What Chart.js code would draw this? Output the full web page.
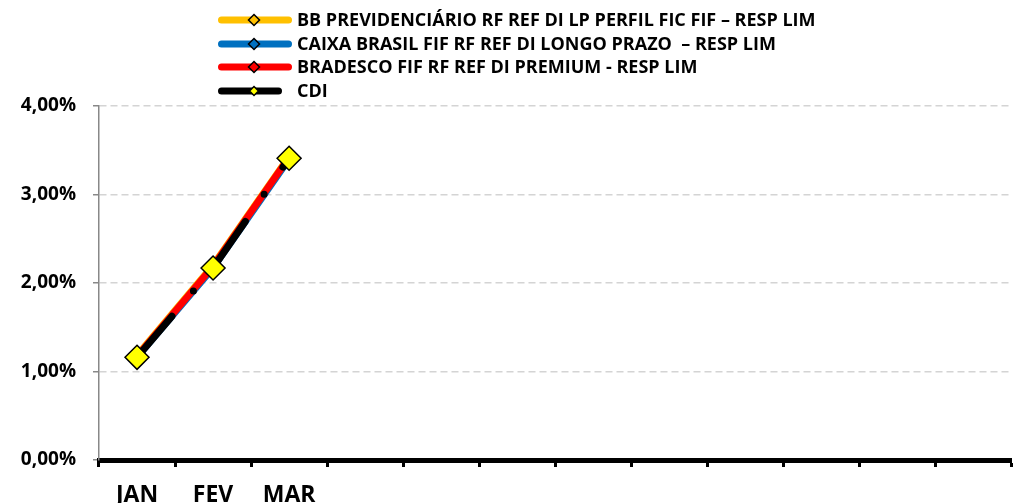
<!DOCTYPE html>
<html>
<head>
<meta charset="utf-8">
<script src="https://cdn.jsdelivr.net/npm/chart.js@4.4.1/dist/chart.umd.min.js"></script>
<style>
  html, body { margin: 0; padding: 0; background: #fff; overflow: hidden; }
  #wrap { width: 1025px; height: 503px; position: relative; }
</style>
</head>
<body>
<div id="wrap"><canvas id="chart"></canvas></div>
<script>
// meses (so os 3 primeiros tem rotulo)
const months = ['JAN', 'FEV', 'MAR', '', '', '', '', '', '', '', '', ''];

const bbName = 'BB PREVIDENCIÁRIO RF REF DI LP PERFIL FIC FIF – RESP LIM';
const caixaName = 'CAIXA BRASIL FIF RF REF DI LONGO PRAZO  – RESP LIM';
const bradescoName = 'BRADESCO FIF RF REF DI PREMIUM - RESP LIM';
const cdiName = 'CDI';

// rentabilidade acumulada (%)
const bbValues = [1.18, 2.20, 3.43];
const caixaValues = [1.16, 2.17, 3.40];
const bradescoValues = [1.17, 2.19, 3.42];
const cdiValues = [1.16, 2.17, 3.41];

const yMin = 0;
const yMax = 4;
const yStep = 1;

const fontFamily = '"Open Sans", Lato, sans-serif';
const fmtPct = v => v.toFixed(2).replace('.', ',') + '%';

const fundSet = (label, data, color, order) => ({
    label,
    data,
    borderColor: color,
    backgroundColor: color,
    borderWidth: 7,
    borderDash: [],
    pointStyle: 'rectRot',
    pointRadius: 5,
    pointBackgroundColor: color,
    pointBorderColor: '#000',
    pointBorderWidth: 1.5,
    tension: 0,
    order
});

// legenda em coluna, desenhada a mao
const legendRows = {
    id: 'legendRows',
    afterDraw(chart) {
        const ctx = chart.ctx;
        ctx.save();
        chart.data.datasets.forEach((ds, i) => {
            const y = Math.round(20 + i * 23.7);
            const isCdi = ds.borderDash.length > 0;

            ctx.lineWidth = 7;
            ctx.lineCap = 'round';
            ctx.strokeStyle = ds.borderColor;
            ctx.beginPath();
            ctx.moveTo(221.5, y);
            ctx.lineTo(isCdi ? 278.5 : 288.5, y);
            ctx.stroke();

            const r = isCdi ? 4.5 : 5.5;
            ctx.beginPath();
            ctx.moveTo(254, y - r);
            ctx.lineTo(254 + r, y);
            ctx.lineTo(254, y + r);
            ctx.lineTo(254 - r, y);
            ctx.closePath();
            ctx.fillStyle = ds.pointBackgroundColor;
            ctx.fill();
            ctx.lineWidth = 1.5;
            ctx.strokeStyle = '#000';
            ctx.stroke();

            ctx.fillStyle = '#000';
            ctx.font = 'bold 18px ' + fontFamily;
            ctx.textBaseline = 'middle';
            ctx.textAlign = 'left';
            ctx.fillText(ds.label, 297, y + 1);
        });
        ctx.restore();
    }
};

new Chart(document.getElementById('chart'), {
    type: 'line',
    data: {
        labels: months,
        datasets: [
            fundSet(bbName, bbValues, '#FFC000', 3),
            fundSet(caixaName, caixaValues, '#0070C0', 2),
            fundSet(bradescoName, bradescoValues, '#FF0000', 1),
            {
                label: cdiName,
                data: cdiValues,
                borderColor: '#000',
                backgroundColor: '#000',
                borderWidth: 7,
                borderDash: [54, 33, 0, 33],
                borderCapStyle: 'round',
                pointStyle: 'rectRot',
                pointRadius: 12,
                pointHoverRadius: 12,
                pointBackgroundColor: '#FFFF00',
                pointBorderColor: '#000',
                pointBorderWidth: 1.5,
                tension: 0,
                order: 0
            }
        ]
    },
    options: {
        responsive: true,
        maintainAspectRatio: false,
        animation: false,
        layout: {
            padding: { top: 106, right: 0, left: 0, bottom: 0 }
        },
        plugins: {
            legend: { display: false },
            tooltip: { enabled: false }
        },
        scales: {
            x: {
                offset: true,
                grid: {
                    offset: true,
                    drawOnChartArea: false,
                    drawTicks: true,
                    tickLength: 7,
                    tickWidth: 3,
                    tickColor: '#000'
                },
                border: { color: '#000', width: 5 },
                ticks: {
                    color: '#000',
                    font: { family: fontFamily, size: 23, weight: 'bold' },
                    padding: 15,
                    maxRotation: 0,
                    autoSkip: false
                },
                afterFit: axis => { axis.height = 43; }
            },
            y: {
                min: yMin,
                max: yMax,
                grid: {
                    color: '#D4D4D4',
                    lineWidth: 1.5,
                    tickBorderDash: [],
                    tickColor: '#888',
                    tickLength: 6
                },
                border: { color: '#888', width: 1.5, dash: [7, 4] },
                ticks: {
                    stepSize: yStep,
                    color: '#000',
                    font: { family: fontFamily, size: 19, weight: 'bold' },
                    padding: 17,
                    callback: v => fmtPct(v)
                },
                afterFit: axis => { axis.width = 99; }
            }
        }
    },
    plugins: [legendRows]
});
</script>
</body>
</html>
